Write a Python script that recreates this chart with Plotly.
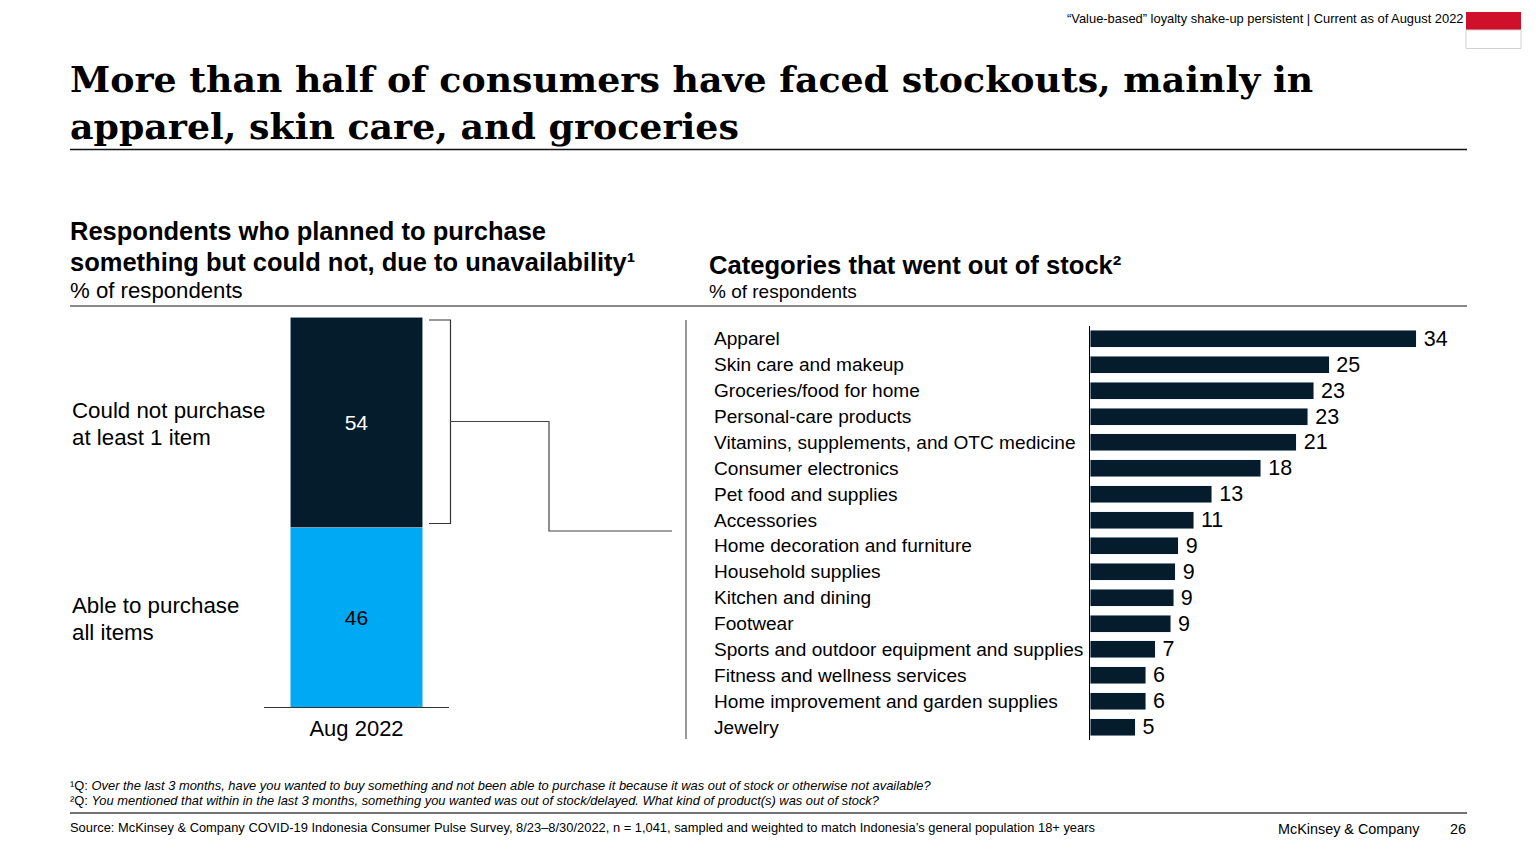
import plotly.graph_objects as go

W, H = 1536, 864

# left stacked bar
period = ["Aug 2022"]
stack_names = ["Able to purchase<br>all items", "Could not purchase<br>at least 1 item"]
able = [46]
could_not = [54]

# right bars, the drawn lengths carry more precision than the printed labels
categories = ["Apparel", "Skin care and makeup", "Groceries/food for home", "Personal-care products",
              "Vitamins, supplements, and OTC medicine", "Consumer electronics", "Pet food and supplies",
              "Accessories", "Home decoration and furniture", "Household supplies", "Kitchen and dining",
              "Footwear", "Sports and outdoor equipment and supplies", "Fitness and wellness services",
              "Home improvement and garden supplies", "Jewelry"]
shares = [34.0, 24.9, 23.3, 22.7, 21.5, 17.8, 12.7, 10.8, 9.2, 8.9, 8.7, 8.4, 6.8, 5.8, 5.8, 4.7]
share_labels = ["34", "25", "23", "23", "21", "18", "13", "11", "9", "9", "9", "9", "7", "6", "6", "5"]

NAVY = "#051C2C"
CYAN = "#00A9F4"
SANS = "Liberation Sans"
SERIF = "DejaVu Serif"


def px(x):
    return x / W


def py(y):
    return 1 - y / H


def label(x, y, text, size, anchor="left", color="#000000", family=SANS):
    # annotations keep about a pixel of padding, take it back here
    x = x - 1 if anchor == "left" else x + 1
    return dict(xref="paper", yref="paper", x=px(x), y=py(y), text=text, showarrow=False,
                xanchor=anchor, yanchor="middle", align=anchor, borderpad=0,
                font=dict(family=family, size=size, color=color))


def rule(x0, y0, x1, y1, color, width):
    return dict(type="line", xref="paper", yref="paper", x0=px(x0), y0=py(y0), x1=px(x1), y1=py(y1),
                line=dict(color=color, width=width))


def path(points, color, width):
    d = "M " + " L ".join(f"{px(a):.5f},{py(b):.5f}" for a, b in points)
    return dict(type="path", xref="paper", yref="paper", path=d, line=dict(color=color, width=width))


fig = go.Figure()

fig.add_trace(go.Bar(x=period, y=able, marker=dict(color=CYAN, line=dict(color="#DDEEF6", width=0.6)),
                     text=able, textposition="inside", insidetextanchor="middle", textangle=0,
                     textfont=dict(family=SANS, size=21, color="black"), xaxis="x", yaxis="y"))
fig.add_trace(go.Bar(x=period, y=could_not, marker=dict(color=NAVY, line=dict(color="#DDEEF6", width=0.6)),
                     text=could_not, textposition="inside", insidetextanchor="middle", textangle=0,
                     textfont=dict(family=SANS, size=21, color="white"), xaxis="x", yaxis="y"))
# thin space in the template pushes the numbers off the bar ends
fig.add_trace(go.Bar(x=shares, y=categories, orientation="h", width=0.66, marker=dict(color=NAVY),
                     text=share_labels, texttemplate="\u2009%{text}", textposition="outside",
                     cliponaxis=False, constraintext="none",
                     textfont=dict(family=SANS, size=21.5, color="black"), xaxis="x2", yaxis="y2"))

annotations = [
    label(1464, 19, "“Value-based” loyalty shake-up persistent | Current as of August 2022", 12.9, "right"),
    label(70, 80, "<b>More than half of consumers have faced stockouts, mainly in</b>", 36.3, family=SERIF),
    label(70, 126, "<b>apparel, skin care, and groceries</b>", 36.3, family=SERIF),
    label(70, 231, "<b>Respondents who planned to purchase</b>", 25.5),
    label(70, 262, "<b>something but could not, due to unavailability¹</b>", 25.5),
    label(70, 290, "% of respondents", 22.2),
    label(709, 265, "<b>Categories that went out of stock²</b>", 25.6),
    label(709, 291, "% of respondents", 19),
    label(72, 410.5, stack_names[1].split("<br>")[0], 22.3),
    label(72, 437.5, stack_names[1].split("<br>")[1], 22.3),
    label(72, 605.5, stack_names[0].split("<br>")[0], 22.3),
    label(72, 632.5, stack_names[0].split("<br>")[1], 22.3),
    label(70, 785, "¹Q: <i>Over the last 3 months, have you wanted to buy something and not been able to purchase it because it was out of stock or otherwise not available?</i>", 12.9),
    label(70, 800, "²Q: <i>You mentioned that within in the last 3 months, something you wanted was out of stock/delayed. What kind of product(s) was out of stock?</i>", 12.9),
    label(70, 827.5, "Source: McKinsey &amp; Company COVID-19 Indonesia Consumer Pulse Survey, 8/23–8/30/2022, n = 1,041, sampled and weighted to match Indonesia’s general population 18+ years", 12.9),
    label(1420, 829, "McKinsey &amp; Company", 14.4, "right"),
    label(1466, 829, "26", 14.4, "right"),
]
for cat in categories:
    annotations.append(dict(xref="paper", yref="y2", x=px(711.5), y=cat, text=cat, showarrow=False,
                            xanchor="left", yanchor="middle", font=dict(family=SANS, size=19.1, color="black")))

shapes = [
    dict(type="rect", xref="paper", yref="paper", x0=px(1466), y0=py(12), x1=px(1521), y1=py(30),
         fillcolor="#D0102A", line=dict(width=0)),
    dict(type="rect", xref="paper", yref="paper", x0=px(1466), y0=py(30), x1=px(1521), y1=py(48.5),
         fillcolor="white", line=dict(color="#D2D2D2", width=1)),
    rule(70, 149.5, 1467, 149.5, "#111111", 1.5),
    rule(70, 306, 1467, 306, "#8A8A8A", 2),
    rule(686, 320, 686, 739, "#777777", 1.5),
    rule(70, 813, 1467, 813, "#444444", 1.5),
    path([(429, 320), (450.5, 320), (450.5, 523.5), (429, 523.5)], "#333333", 1.2),
    path([(450.5, 421.5), (549, 421.5), (549, 531), (672, 531)], "#444444", 1.2),
]

fig.update_layout(
    width=W, height=H, margin=dict(l=0, r=0, t=0, b=0), paper_bgcolor="white", plot_bgcolor="white",
    barmode="stack", bargap=0.285, showlegend=False, annotations=annotations, shapes=shapes,
    xaxis=dict(domain=[px(264), px(449)], anchor="y", showgrid=False, zeroline=False, showline=True,
               linecolor="#333333", linewidth=1, ticks="outside", ticklen=2, tickcolor="rgba(0,0,0,0)",
               tickfont=dict(family=SANS, size=22, color="black")),
    yaxis=dict(domain=[py(707), py(317)], range=[0, 100], anchor="x", visible=False),
    xaxis2=dict(domain=[px(1090), px(1474)], range=[0, 40], anchor="y2", visible=False),
    yaxis2=dict(domain=[py(740), py(326)], range=[15.5, -0.5], anchor="x2", showgrid=False, zeroline=False,
                showline=True, linecolor="black", linewidth=1, ticks="", showticklabels=False),
)

fig.write_html("out.html", config=dict(displayModeBar=False), post_script="document.body.style.margin='0';")
